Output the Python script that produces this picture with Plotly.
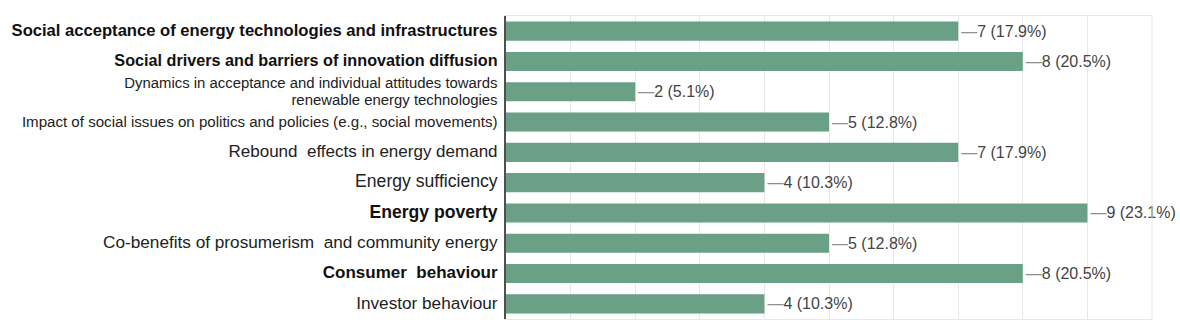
import plotly.graph_objects as go

categories = [
    "Social acceptance of energy technologies and infrastructures",
    "Social drivers and barriers of innovation diffusion",
    "Dynamics in acceptance and individual attitudes towards<br>renewable energy technologies",
    "Impact of social issues on politics and policies (e.g., social movements)",
    "Rebound  effects in energy demand",
    "Energy sufficiency",
    "Energy poverty",
    "Co-benefits of prosumerism  and community energy",
    "Consumer  behaviour",
    "Investor behaviour",
]
bold_flags = [True, True, False, False, False, False, True, False, True, False]
label_sizes = [16.6, 16.2, 14.9, 15.1, 17, 17.6, 17.6, 17.2, 17, 17.2]
counts = [7, 8, 2, 5, 7, 4, 9, 5, 8, 4]
percents = [17.9, 20.5, 5.1, 12.8, 17.9, 10.3, 23.1, 12.8, 20.5, 10.3]


def fmt_cat(text, bold, size):
    parts = text.split("<br>")
    color = "#111111" if bold else "#222222"
    out = []
    for p in parts:
        s = f"<span style='font-size:{size}px;color:{color}'>{p}</span>"
        if bold:
            s = f"<b>{s}</b>"
        out.append(s)
    return "<br>".join(out)


ycats = [fmt_cat(c, b, s) for c, b, s in zip(categories, bold_flags, label_sizes)]
labels = [f"<span style='color:#8f8f8f'>—</span>{c} ({p}%)"
          for c, p in zip(counts, percents)]

fig = go.Figure(go.Bar(
    x=counts,
    y=ycats,
    orientation="h",
    marker=dict(color="#6aa086", line=dict(width=0)),
    text=labels,
    textposition="outside",
    textfont=dict(family="Liberation Sans, Arial", size=16, color="#444444"),
    cliponaxis=False,
))

fig.update_layout(
    width=1180, height=336,
    margin=dict(l=504, r=28, t=16, b=17),
    paper_bgcolor="white", plot_bgcolor="white",
    bargap=0.37,
    showlegend=False,
    font=dict(family="Liberation Sans, Arial", color="#222222"),
    xaxis=dict(
        range=[0, 10], dtick=1, showticklabels=False,
        showgrid=True, gridcolor="#e8e8e8", gridwidth=1,
        zeroline=False,
        showline=True, mirror=True, linecolor="#e8e8e8", linewidth=1,
    ),
    yaxis=dict(
        autorange="reversed",
        showline=True, linecolor="#505050", linewidth=1.5,
        tickfont=dict(size=13.5, color="#222222"),
        ticklabelstandoff=4,
        showgrid=False,
    ),
    shapes=[dict(type="line", xref="paper", yref="paper", x0=1, x1=1, y0=0, y1=1,
                 line=dict(color="#e8e8e8", width=1))],
)

fig.write_html("out.html")
